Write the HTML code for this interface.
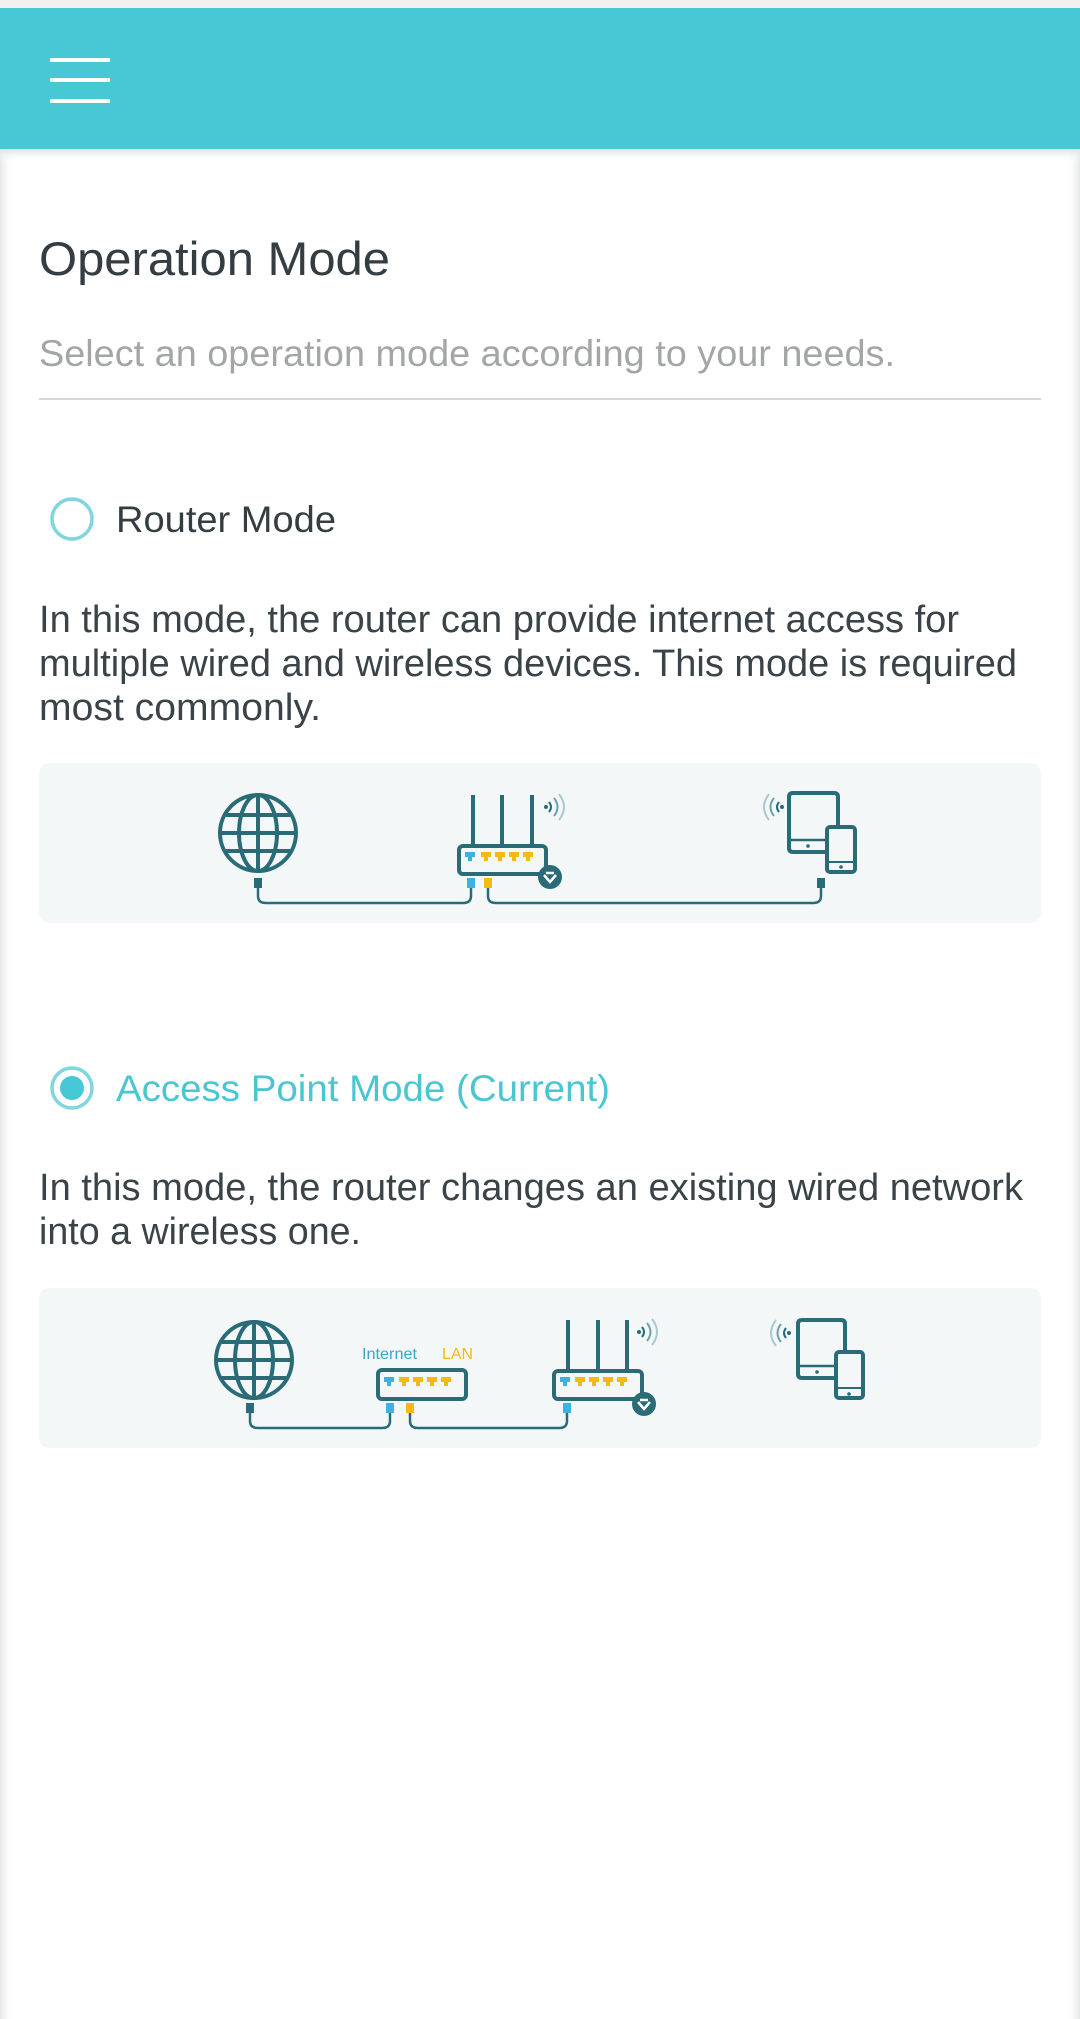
<!DOCTYPE html>
<html><head><meta charset="utf-8"><style>
html,body{margin:0;padding:0;width:1080px;height:2019px;overflow:hidden;background:#fff;}
svg{display:block;}
text{font-family:"Liberation Sans",sans-serif;}
</style></head><body>
<svg width="1080" height="2019" viewBox="0 0 1080 2019" xmlns="http://www.w3.org/2000/svg">
<defs>
<linearGradient id="lg" x1="0" x2="1"><stop offset="0" stop-color="#e6e8e8"/><stop offset="1" stop-color="#fff" stop-opacity="0"/></linearGradient>
<linearGradient id="rg" x1="1" x2="0"><stop offset="0" stop-color="#e6e8e8"/><stop offset="1" stop-color="#fff" stop-opacity="0"/></linearGradient>
<linearGradient id="sh" x1="0" y1="0" x2="0" y2="1"><stop offset="0" stop-color="#dfe3e4"/><stop offset="1" stop-color="#fff" stop-opacity="0"/></linearGradient>
</defs>
<rect width="1080" height="2019" fill="#fff"/>
<rect x="0" y="149" width="14" height="1870" fill="url(#lg)"/>
<rect x="1066" y="149" width="14" height="1870" fill="url(#rg)"/>
<rect x="0" y="0" width="1080" height="8" fill="#f3f1f0"/>
<rect x="0" y="149" width="1080" height="14" fill="url(#sh)"/>
<rect x="0" y="8" width="1080" height="141" fill="#48c7d5"/>
<g stroke="#fff" stroke-width="4"><line x1="50" y1="60" x2="110" y2="60"/><line x1="50" y1="80" x2="110" y2="80"/><line x1="50" y1="101" x2="110" y2="101"/></g>

<text x="39" y="275" font-size="47" fill="#333d42" textLength="351" lengthAdjust="spacingAndGlyphs">Operation Mode</text>
<text x="39" y="366" font-size="37" fill="#a3a5a6" textLength="856" lengthAdjust="spacingAndGlyphs">Select an operation mode according to your needs.</text>
<rect x="39" y="398" width="1002" height="2" fill="#d4d6d7"/>

<circle cx="72" cy="519" r="20" fill="#fff" stroke="#7fd6df" stroke-width="3.5"/>
<text x="116" y="532" font-size="37" fill="#333d42" textLength="220" lengthAdjust="spacingAndGlyphs">Router Mode</text>
<g font-size="38" fill="#3a4448">
<text x="39" y="632" textLength="920" lengthAdjust="spacingAndGlyphs">In this mode, the router can provide internet access for</text>
<text x="39" y="676" textLength="978" lengthAdjust="spacingAndGlyphs">multiple wired and wireless devices. This mode is required</text>
<text x="39" y="720" textLength="282" lengthAdjust="spacingAndGlyphs">most commonly.</text>
</g>
<rect x="39" y="763" width="1002" height="160" rx="10" fill="#f4f7f7"/>

<circle cx="72" cy="1088" r="20" fill="#fff" stroke="#7fd6df" stroke-width="3.5"/>
<circle cx="72" cy="1088" r="12" fill="#48c7d5"/>
<text x="116" y="1101" font-size="37" fill="#4ac6d2" textLength="494" lengthAdjust="spacingAndGlyphs">Access Point Mode (Current)</text>
<g font-size="38" fill="#3a4448">
<text x="39" y="1200" textLength="984" lengthAdjust="spacingAndGlyphs">In this mode, the router changes an existing wired network</text>
<text x="39" y="1244" textLength="322" lengthAdjust="spacingAndGlyphs">into a wireless one.</text>
</g>
<rect x="39" y="1288" width="1002" height="160" rx="10" fill="#f4f7f7"/>

<!-- Diagram 1 -->
<g stroke="#2a6b78" stroke-width="4" fill="none">
 <circle cx="258" cy="833" r="38"/>
 <ellipse cx="258" cy="833" rx="19" ry="38"/>
 <line x1="258" y1="795" x2="258" y2="871"/>
 <line x1="220" y1="833" x2="296" y2="833"/>
 <line x1="226" y1="815" x2="290" y2="815"/>
 <line x1="226" y1="851" x2="290" y2="851"/>
 <path d="M258 888 V896 Q258 903 266 903 H463 Q471 903 471 896 V888" stroke-width="2.5"/>
 <path d="M488 888 V896 Q488 903 496 903 H813 Q821 903 821 896 V888" stroke-width="2.5"/>
 <rect x="459" y="846" width="87" height="28" rx="4"/>
 <line x1="473" y1="795" x2="473" y2="846"/><line x1="502" y1="795" x2="502" y2="846"/><line x1="532" y1="795" x2="532" y2="846"/>
 <path d="M838 827 V797 Q838 793 834 793 H793 Q789 793 789 797 V848 Q789 852 793 852 H827"/>
 <line x1="789" y1="840" x2="827" y2="840" stroke-width="2.5"/>
 <rect x="827" y="827" width="28" height="45" rx="3"/>
 <line x1="827" y1="862" x2="855" y2="862" stroke-width="2"/>
</g>
<g fill="#2a6b78"><rect x="254" y="878" width="8" height="10"/><rect x="817" y="878" width="8" height="10"/>
 <circle cx="550" cy="877" r="12"/><circle cx="808" cy="846" r="1.8"/><circle cx="841" cy="867" r="1.8"/></g>
<path d="M544 875 l6 7 6-7 M546 873h8" stroke="#fff" stroke-width="2.5" fill="none"/>
<rect x="467" y="878" width="8" height="10" fill="#3cb2e3"/><rect x="484" y="878" width="8" height="10" fill="#f5b914"/>
<g fill="#3cb2e3"><path d="M465 852h10v5h-3v4h-4v-4h-3z"/></g>
<g fill="#f5b914"><path d="M481 852h10v5h-3v4h-4v-4h-3z M495 852h10v5h-3v4h-4v-4h-3z M509 852h10v5h-3v4h-4v-4h-3z M523 852h10v5h-3v4h-4v-4h-3z"/></g>
<g fill="none" stroke-width="2"><path d="M549 802 q4 5 0 10" stroke="#2a6b78"/><path d="M554 798 q7 9 0 18" stroke="#6aa3ad"/><path d="M559 794 q10 13 0 26" stroke="#a8c9cf"/>
<path d="M779 802 q-4 5 0 10" stroke="#2a6b78"/><path d="M774 798 q-7 9 0 18" stroke="#6aa3ad"/><path d="M769 794 q-10 13 0 26" stroke="#a8c9cf"/></g>
<circle cx="546" cy="807" r="2" fill="#2a6b78"/><circle cx="782" cy="807" r="2" fill="#2a6b78"/>

<!-- Diagram 2 -->
<g stroke="#2a6b78" stroke-width="4" fill="none">
 <circle cx="254" cy="1360" r="38"/>
 <ellipse cx="254" cy="1360" rx="19" ry="38"/>
 <line x1="254" y1="1322" x2="254" y2="1398"/>
 <line x1="216" y1="1360" x2="292" y2="1360"/>
 <line x1="222" y1="1342" x2="286" y2="1342"/>
 <line x1="222" y1="1378" x2="286" y2="1378"/>
 <path d="M250 1412 V1421 Q250 1428 258 1428 H382 Q390 1428 390 1421 V1412" stroke-width="2.5"/>
 <path d="M410 1412 V1421 Q410 1428 418 1428 H559 Q567 1428 567 1421 V1412" stroke-width="2.5"/>
 <rect x="378" y="1370" width="88" height="29" rx="4"/>
 <rect x="554" y="1371" width="88" height="28" rx="4"/>
 <line x1="568" y1="1320" x2="568" y2="1371"/><line x1="598" y1="1320" x2="598" y2="1371"/><line x1="627" y1="1320" x2="627" y2="1371"/>
 <path d="M845 1352 V1324 Q845 1320 841 1320 H802 Q798 1320 798 1324 V1374 Q798 1378 802 1378 H836"/>
 <line x1="798" y1="1366" x2="836" y2="1366" stroke-width="2.5"/>
 <rect x="836" y="1352" width="27" height="46" rx="3"/>
 <line x1="836" y1="1388" x2="863" y2="1388" stroke-width="2"/>
</g>
<g fill="#2a6b78"><rect x="246" y="1403" width="8" height="10"/><circle cx="644" cy="1404" r="12"/><circle cx="817" cy="1372" r="1.8"/><circle cx="849" cy="1394" r="1.8"/></g>
<path d="M638 1402 l6 7 6-7 M640 1400h8" stroke="#fff" stroke-width="2.5" fill="none"/>
<rect x="386" y="1403" width="8" height="10" fill="#3cb2e3"/><rect x="406" y="1403" width="8" height="10" fill="#f5b914"/><rect x="563" y="1403" width="8" height="10" fill="#3cb2e3"/>
<g fill="#3cb2e3"><path d="M384 1377h10v5h-3v4h-4v-4h-3z M560 1377h10v5h-3v4h-4v-4h-3z"/></g>
<g fill="#f5b914"><path d="M399 1377h10v5h-3v4h-4v-4h-3z M413 1377h10v5h-3v4h-4v-4h-3z M427 1377h10v5h-3v4h-4v-4h-3z M441 1377h10v5h-3v4h-4v-4h-3z
 M575 1377h10v5h-3v4h-4v-4h-3z M589 1377h10v5h-3v4h-4v-4h-3z M603 1377h10v5h-3v4h-4v-4h-3z M617 1377h10v5h-3v4h-4v-4h-3z"/></g>
<text x="362" y="1359" font-size="16" fill="#3aa6c8" textLength="55" lengthAdjust="spacingAndGlyphs">Internet</text>
<text x="442" y="1359" font-size="16" fill="#f5b914" textLength="31" lengthAdjust="spacingAndGlyphs">LAN</text>
<g fill="none" stroke-width="2"><path d="M642 1327 q4 5 0 10" stroke="#2a6b78"/><path d="M647 1323 q7 9 0 18" stroke="#6aa3ad"/><path d="M652 1319 q10 13 0 26" stroke="#a8c9cf"/>
<path d="M786 1328 q-4 5 0 10" stroke="#2a6b78"/><path d="M781 1324 q-7 9 0 18" stroke="#6aa3ad"/><path d="M776 1320 q-10 13 0 26" stroke="#a8c9cf"/></g>
<circle cx="639" cy="1332" r="2" fill="#2a6b78"/><circle cx="789" cy="1333" r="2" fill="#2a6b78"/>
</svg>
</body></html>
